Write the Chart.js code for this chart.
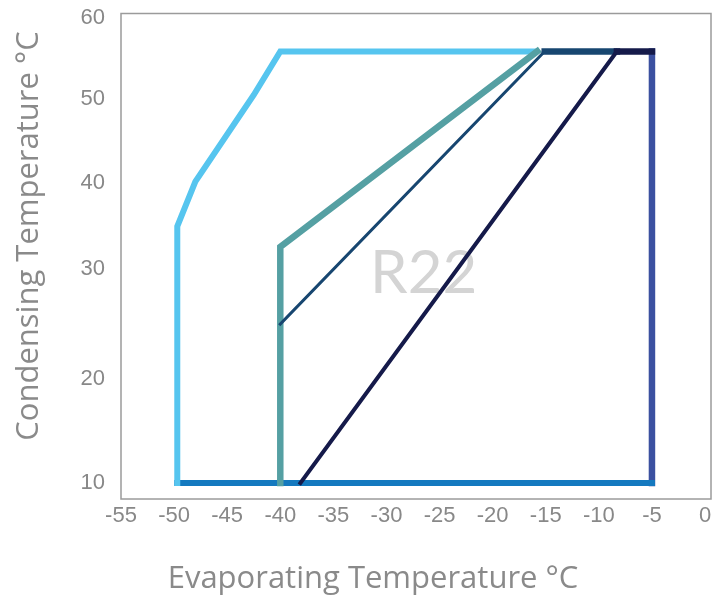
<!DOCTYPE html>
<html>
<head>
<meta charset="utf-8">
<script src="https://cdn.jsdelivr.net/npm/chart.js@4"></script>
<style>
    html, body { margin: 0; padding: 0; background: #fff; }
    #wrap { width: 727px; height: 597px; }
</style>
</head>
<body>
<div id="wrap"><canvas id="envelope-chart" width="727" height="597"></canvas></div>
<script>
// tick labels
const xTicks = [-55, -50, -45, -40, -35, -30, -25, -20, -15, -10, -5, 0];
const yTicks = [10, 20, 30, 40, 50, 60];

// operating envelope lines (evaporating, condensing)
const envelopeX = [-49.7, -49.7, -48, -42.5, -40, -16.2];
const envelopeY = [10, 35, 40.2, 50.5, 55.9, 55.9];
const bottomX = [-49.7, -5];
const bottomY = [10, 10];
const rightX = [-5, -5];
const rightY = [10, 55.9];
const tealX = [-40, -40, -15.8];
const tealY = [10, 32.6, 55.9];
const blueX = [-40, -15.1, -8.3];
const blueY = [25, 55.9, 55.9];
const navyX = [-38.1, -8.3, -5];
const navyY = [10, 55.9, 55.9];

const refrigerant = 'R22';
const xTitle = 'Evaporating Temperature °C';
const yTitle = 'Condensing Temperature °C';

// the condensing axis is not evenly spaced in the original, so use a piecewise scale
const yWarp = [[8.46, 0], [10, 0.033], [20, 0.2472], [30, 0.4731], [40, 0.6503], [50, 0.8239], [60, 0.9901], [60.6, 1]];

class PiecewiseScale extends Chart.LinearScale {
    static id = 'piecewise';
    static defaults = Chart.LinearScale.defaults;

    getPixelForValue(value) {
        return this.getPixelForDecimal(warp(value, 0, 1));
    }

    getValueForPixel(pixel) {
        return warp(this.getDecimalForPixel(pixel), 1, 0);
    }
}

function warp(v, from, to) {
    for (let i = 1; i < yWarp.length; i++) {
        let a = yWarp[i - 1], b = yWarp[i];
        if (v <= b[from] || i === yWarp.length - 1) {
            return a[to] + (v - a[from]) * (b[to] - a[to]) / (b[from] - a[from]);
        }
    }
}

Chart.register(PiecewiseScale);

function toPoints(xs, ys) {
    return xs.map((x, i) => ({ x: x, y: ys[i] }));
}

function lineSet(xs, ys, color, width, topWidth) {
    let ds = {
        data: toPoints(xs, ys),
        borderColor: color,
        borderWidth: width,
        borderCapStyle: 'square',
        borderJoinStyle: 'miter',
        showLine: true,
        pointRadius: 0,
        fill: false,
        tension: 0
    };
    if (topWidth) {
        ds.segment = {
            borderWidth: ctx => ctx.p1DataIndex === xs.length - 1 ? topWidth : width
        };
    }
    return ds;
}

const framePlugin = {
    id: 'frame',
    beforeDatasetsDraw(chart) {
        let ctx = chart.ctx;
        let area = chart.chartArea;
        ctx.save();
        ctx.strokeStyle = '#9b9b9b';
        ctx.lineWidth = 1.5;
        ctx.strokeRect(area.left, area.top, area.right - area.left, area.bottom - area.top);
        // watermark label
        let x = chart.scales.x.getPixelForValue(-26.5);
        let y = chart.scales.y.getPixelForValue(29.6);
        ctx.fillStyle = '#d4d4d4';
        ctx.font = '60px Lato';
        ctx.textAlign = 'center';
        ctx.textBaseline = 'middle';
        ctx.fillText(refrigerant, x, y);
        ctx.restore();
    },
    afterDraw(chart) {
        // axis titles sit off-centre in the original, so place them by hand
        let ctx = chart.ctx;
        ctx.save();
        ctx.fillStyle = '#8a8a8a';
        ctx.font = '31px "Open Sans"';
        ctx.textAlign = 'center';
        ctx.textBaseline = 'alphabetic';
        ctx.fillText(xTitle, 373, 588);
        ctx.translate(38, 236);
        ctx.rotate(-Math.PI / 2);
        ctx.fillText(yTitle, 0, 0);
        ctx.restore();
    }
};

let ctx = document.getElementById('envelope-chart').getContext('2d');
window.myChart = new Chart(ctx, {
    type: 'scatter',
    data: {
        datasets: [
            lineSet(navyX, navyY, '#151a4a', 4, 6.5),
            lineSet(blueX, blueY, '#174670', 3, 6.5),
            lineSet(tealX, tealY, '#55a0a3', 6.5),
            lineSet(envelopeX, envelopeY, '#56c5ef', 6),
            lineSet(bottomX, bottomY, '#1479bf', 6),
            lineSet(rightX, rightY, '#3b50a0', 6.5)
        ]
    },
    options: {
        responsive: false,
        animation: false,
        layout: {
            padding: { left: 0, right: 16, top: 0, bottom: 0 }
        },
        scales: {
            x: {
                type: 'linear',
                min: -55,
                max: 0.56,
                grid: { display: false, drawTicks: false },
                border: { display: false },
                afterBuildTicks: scale => { scale.ticks = xTicks.map(v => ({ value: v })); },
                afterFit: scale => {
                    scale.height = 98;
                    scale.paddingLeft = 0;
                    scale.paddingRight = 0;
                },
                ticks: {
                    color: '#888888',
                    padding: 4,
                    maxRotation: 0,
                    autoSkip: false,
                    font: { family: 'Liberation Sans', size: 22 }
                }
            },
            y: {
                type: 'piecewise',
                min: 8.46,
                max: 60.6,
                grid: { display: false, drawTicks: false },
                border: { display: false },
                afterBuildTicks: scale => { scale.ticks = yTicks.map(v => ({ value: v })); },
                afterFit: scale => {
                    scale.width = 121;
                    scale.paddingTop = 13.5;
                    scale.paddingBottom = 0;
                },
                ticks: {
                    color: '#888888',
                    padding: 16,
                    autoSkip: false,
                    font: { family: 'Liberation Sans', size: 22 }
                }
            }
        },
        plugins: {
            legend: { display: false },
            tooltip: { enabled: false }
        }
    },
    plugins: [framePlugin]
});
</script>
</body>
</html>
